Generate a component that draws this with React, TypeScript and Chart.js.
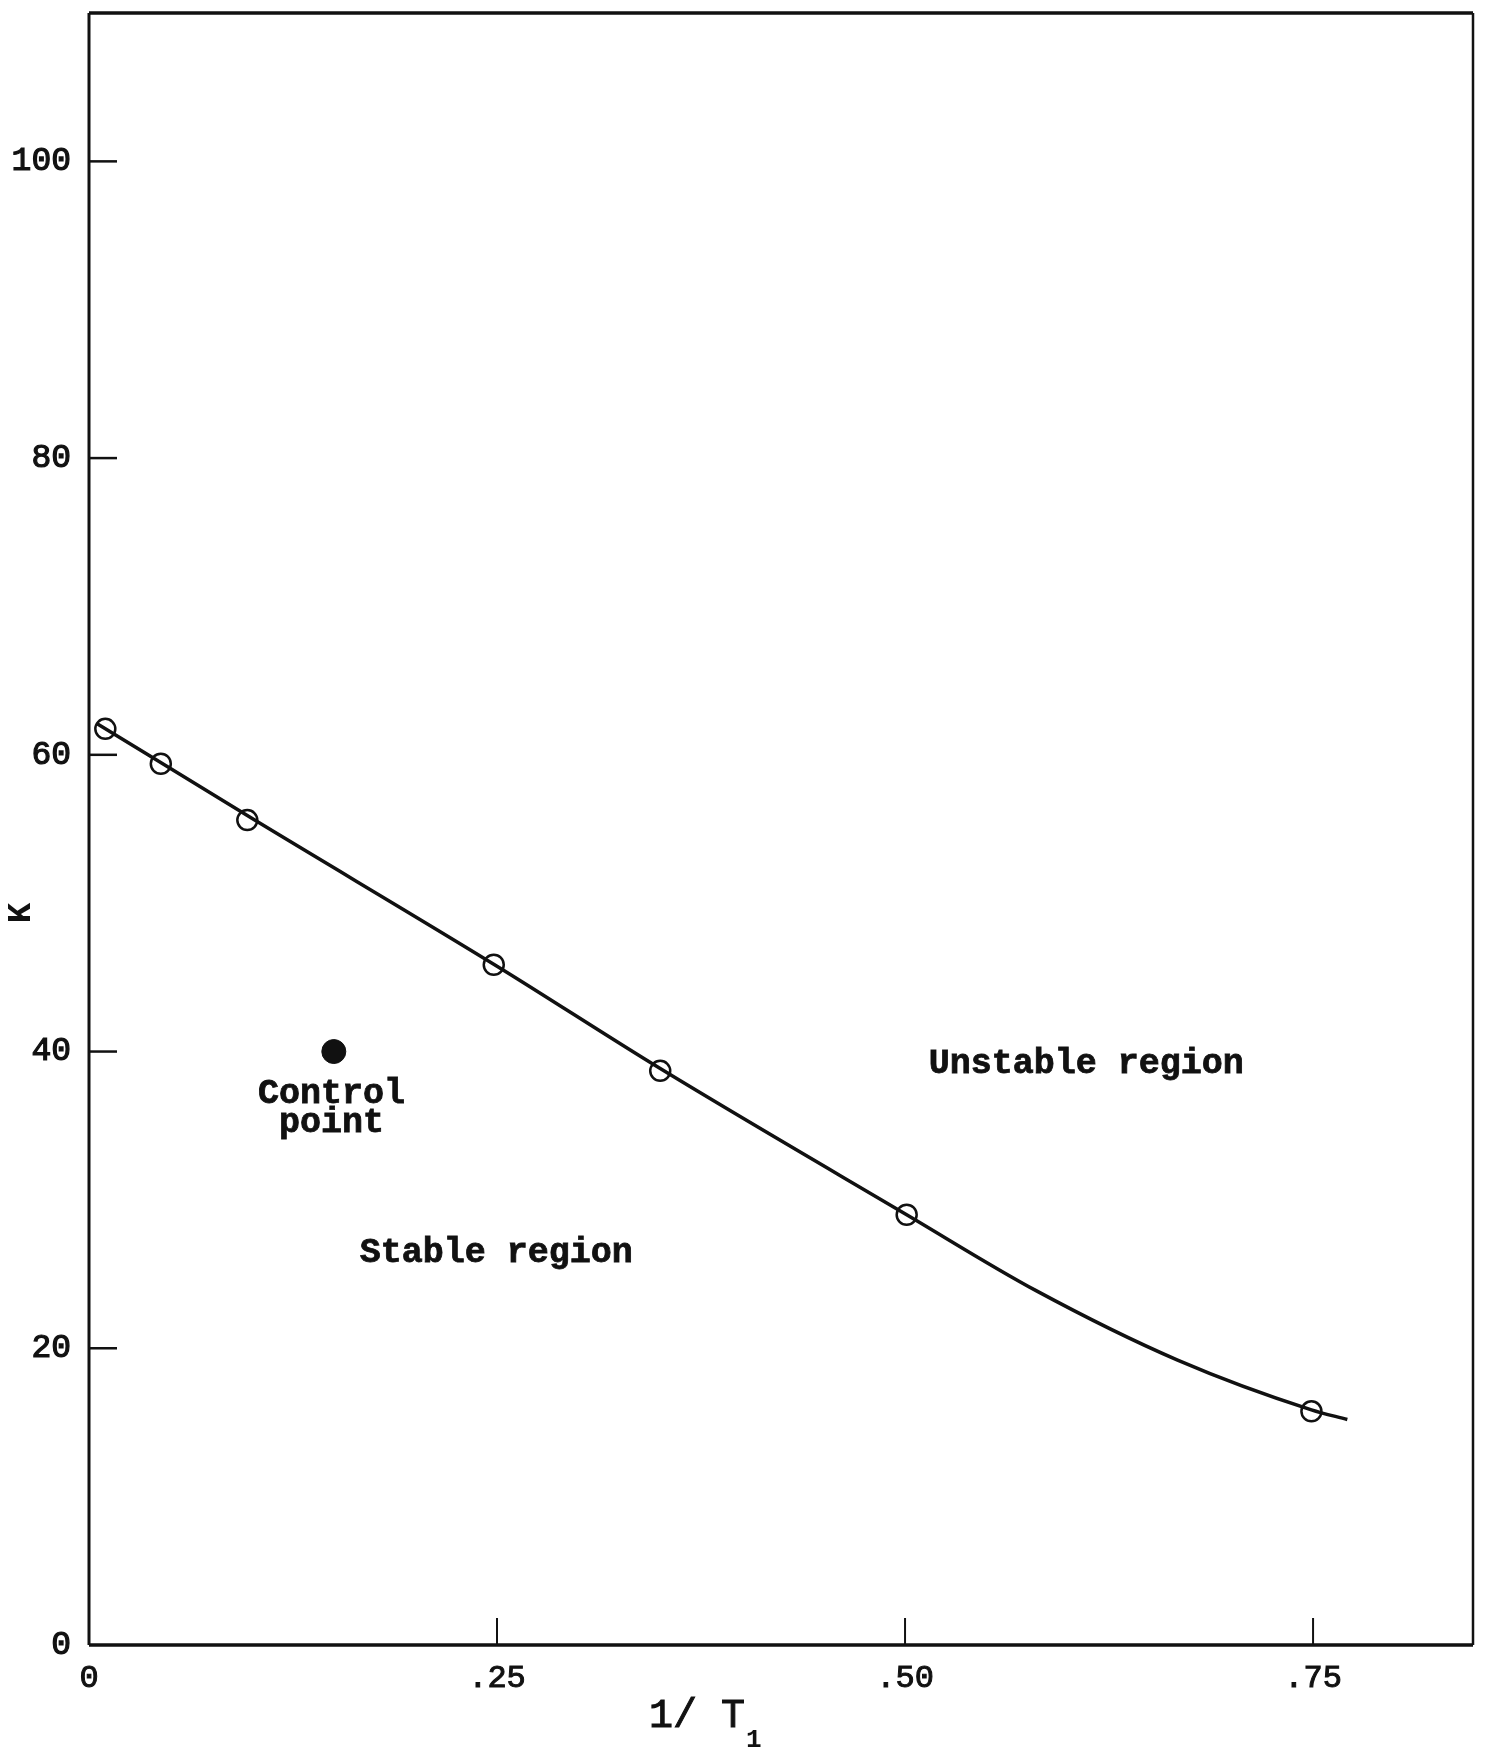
import React, { useEffect, useRef } from "react";
import { Chart, registerables } from "chart.js";

Chart.register(...registerables);

// ---- data ----
const pointX = [0.01, 0.044, 0.097, 0.248, 0.35, 0.501, 0.749];
const pointY = [61.75, 59.4, 55.6, 45.85, 38.7, 29.0, 15.75];

// hand-drawn smooth boundary curve
const curveX = [0.005, 0.1, 0.25, 0.35, 0.501, 0.58, 0.667, 0.749, 0.771];
const curveY = [62.1, 55.7, 45.75, 38.85, 29.0, 23.9, 19.2, 15.85, 15.2];

const controlX = [0.15];
const controlY = [40];

const xTickValues = [0, 0.25, 0.5, 0.75];
const xTickLabels = ["0", ".25", ".50", ".75"];
const yTickValues = [0, 20, 40, 60, 80, 100];
const yTickLabels = ["0", "20", "40", "60", "80", "100"];

const X_MIN = 0;
const X_MAX = 0.848;
const Y_MIN = 0;
const Y_MAX = 110;

const annotations = [
  { text: "Unstable region", x: 0.611, y: 38.56 },
  { text: "Stable region", x: 0.2495, y: 25.84 },
  { text: "Control", x: 0.1486, y: 36.54 },
  { text: "point", x: 0.1486, y: 34.59 },
];

const MONO = '"Liberation Mono", "DejaVu Sans Mono", monospace';
const INK = "#111";

const overlayPlugin = {
  id: "overlay",
  afterDraw(chart: any) {
    const { ctx, chartArea } = chart;
    const xs = chart.scales.x;
    const ys = chart.scales.y;
    const { left, right, top, bottom } = chartArea;
    ctx.save();
    // frame
    ctx.strokeStyle = INK;
    ctx.lineWidth = 3.5;
    ctx.beginPath();
    ctx.moveTo(left, top);
    ctx.lineTo(right, top);
    ctx.moveTo(left, bottom);
    ctx.lineTo(right, bottom);
    ctx.stroke();
    ctx.lineWidth = 3;
    ctx.beginPath();
    ctx.moveTo(left, top);
    ctx.lineTo(left, bottom);
    ctx.stroke();
    ctx.lineWidth = 2.5;
    ctx.beginPath();
    ctx.moveTo(right, top);
    ctx.lineTo(right, bottom);
    ctx.stroke();

    // inward tick marks
    ctx.lineWidth = 2.5;
    ys.ticks.forEach((t: any) => {
      if (t.value === Y_MIN) return;
      const py = ys.getPixelForValue(t.value);
      ctx.beginPath();
      ctx.moveTo(left, py);
      ctx.lineTo(left + 28, py);
      ctx.stroke();
    });
    ctx.lineWidth = 2;
    xs.ticks.forEach((t: any) => {
      if (t.value === X_MIN) return;
      const px = xs.getPixelForValue(t.value);
      ctx.beginPath();
      ctx.moveTo(px, bottom);
      ctx.lineTo(px, bottom - 27);
      ctx.stroke();
    });

    // annotations
    ctx.fillStyle = INK;
    ctx.strokeStyle = INK;
    ctx.lineWidth = 0.8;
    ctx.font = `bold 35px ${MONO}`;
    ctx.textAlign = "center";
    ctx.textBaseline = "alphabetic";
    annotations.forEach((a) => {
      const px = xs.getPixelForValue(a.x);
      const py = ys.getPixelForValue(a.y);
      ctx.fillText(a.text, px, py);
      ctx.strokeText(a.text, px, py);
    });

    // y-axis title "K" (rotated)
    ctx.save();
    ctx.translate(21, 913);
    ctx.rotate(-Math.PI / 2);
    ctx.font = `bold 34px ${MONO}`;
    ctx.textAlign = "center";
    ctx.textBaseline = "middle";
    ctx.fillText("K", 0, 0);
    ctx.restore();

    // x-axis title "1/ T" with subscript 1
    ctx.font = `40px ${MONO}`;
    ctx.textAlign = "left";
    ctx.textBaseline = "alphabetic";
    ctx.lineWidth = 1;
    const main = "1/ T";
    const tx = 649;
    ctx.fillText(main, tx, 1727);
    ctx.strokeText(main, tx, 1727);
    const w = ctx.measureText(main).width;
    ctx.font = `bold 26px ${MONO}`;
    ctx.fillText("1", tx + w + 1, 1747);
    ctx.restore();
  },
};

export default function App() {
  const canvasRef = useRef<HTMLCanvasElement | null>(null);

  useEffect(() => {
    if (!canvasRef.current) return;
    const chart = new Chart(canvasRef.current, {
      type: "scatter",
      data: {
        datasets: [
          {
            label: "stability boundary",
            data: curveX.map((x, i) => ({ x, y: curveY[i] })),
            showLine: true,
            borderColor: INK,
            borderWidth: 3.5,
            pointRadius: 0,
            cubicInterpolationMode: "monotone",
            fill: false,
            order: 3,
          } as any,
          {
            label: "measured",
            data: pointX.map((x, i) => ({ x, y: pointY[i] })),
            showLine: false,
            pointRadius: 10,
            pointBorderWidth: 2.5,
            pointBorderColor: INK,
            pointBackgroundColor: "rgba(0,0,0,0)",
            order: 2,
          } as any,
          {
            label: "control point",
            data: controlX.map((x, i) => ({ x, y: controlY[i] })),
            showLine: false,
            pointRadius: 12,
            pointBorderWidth: 1,
            pointBorderColor: INK,
            pointBackgroundColor: INK,
            order: 1,
          } as any,
        ],
      },
      options: {
        responsive: false,
        animation: false,
        devicePixelRatio: 1,
        events: [],
        layout: { padding: { top: 10, right: 11, left: 0, bottom: 0 } },
        plugins: {
          legend: { display: false },
          tooltip: { enabled: false },
        },
        scales: {
          x: {
            type: "linear",
            position: "bottom",
            min: X_MIN,
            max: X_MAX,
            grid: { display: false, drawTicks: false },
            border: { display: false },
            afterBuildTicks: (scale: any) => {
              scale.ticks = xTickValues.map((v) => ({ value: v }));
            },
            ticks: {
              autoSkip: false,
              maxRotation: 0,
              padding: 14,
              color: INK,
              textStrokeColor: INK,
              textStrokeWidth: 1,
              font: { family: MONO, size: 32 },
              callback: (value: any) => {
                const i = xTickValues.indexOf(Number(value));
                return i >= 0 ? xTickLabels[i] : "";
              },
            },
            afterFit: (scale: any) => {
              scale.height = 102;
              scale.paddingLeft = 0;
              scale.paddingRight = 0;
            },
          },
          y: {
            type: "linear",
            min: Y_MIN,
            max: Y_MAX,
            grid: { display: false, drawTicks: false },
            border: { display: false },
            afterBuildTicks: (scale: any) => {
              scale.ticks = yTickValues.map((v) => ({ value: v }));
            },
            ticks: {
              autoSkip: false,
              padding: 18,
              color: INK,
              textStrokeColor: INK,
              textStrokeWidth: 1.2,
              font: { family: MONO, size: 33 },
              callback: (value: any) => {
                const i = yTickValues.indexOf(Number(value));
                return i >= 0 ? yTickLabels[i] : "";
              },
            },
            afterFit: (scale: any) => {
              scale.width = 89;
              scale.paddingTop = 0;
              scale.paddingBottom = 0;
            },
          },
        },
      } as any,
      plugins: [overlayPlugin],
    });
    return () => chart.destroy();
  }, []);

  return (
    <div
      style={{
        position: "fixed",
        left: 0,
        top: 0,
        width: 1486,
        height: 1747,
        background: "#fff",
      }}
    >
      <canvas ref={canvasRef} width={1486} height={1747} style={{ display: "block" }} />
    </div>
  );
}
